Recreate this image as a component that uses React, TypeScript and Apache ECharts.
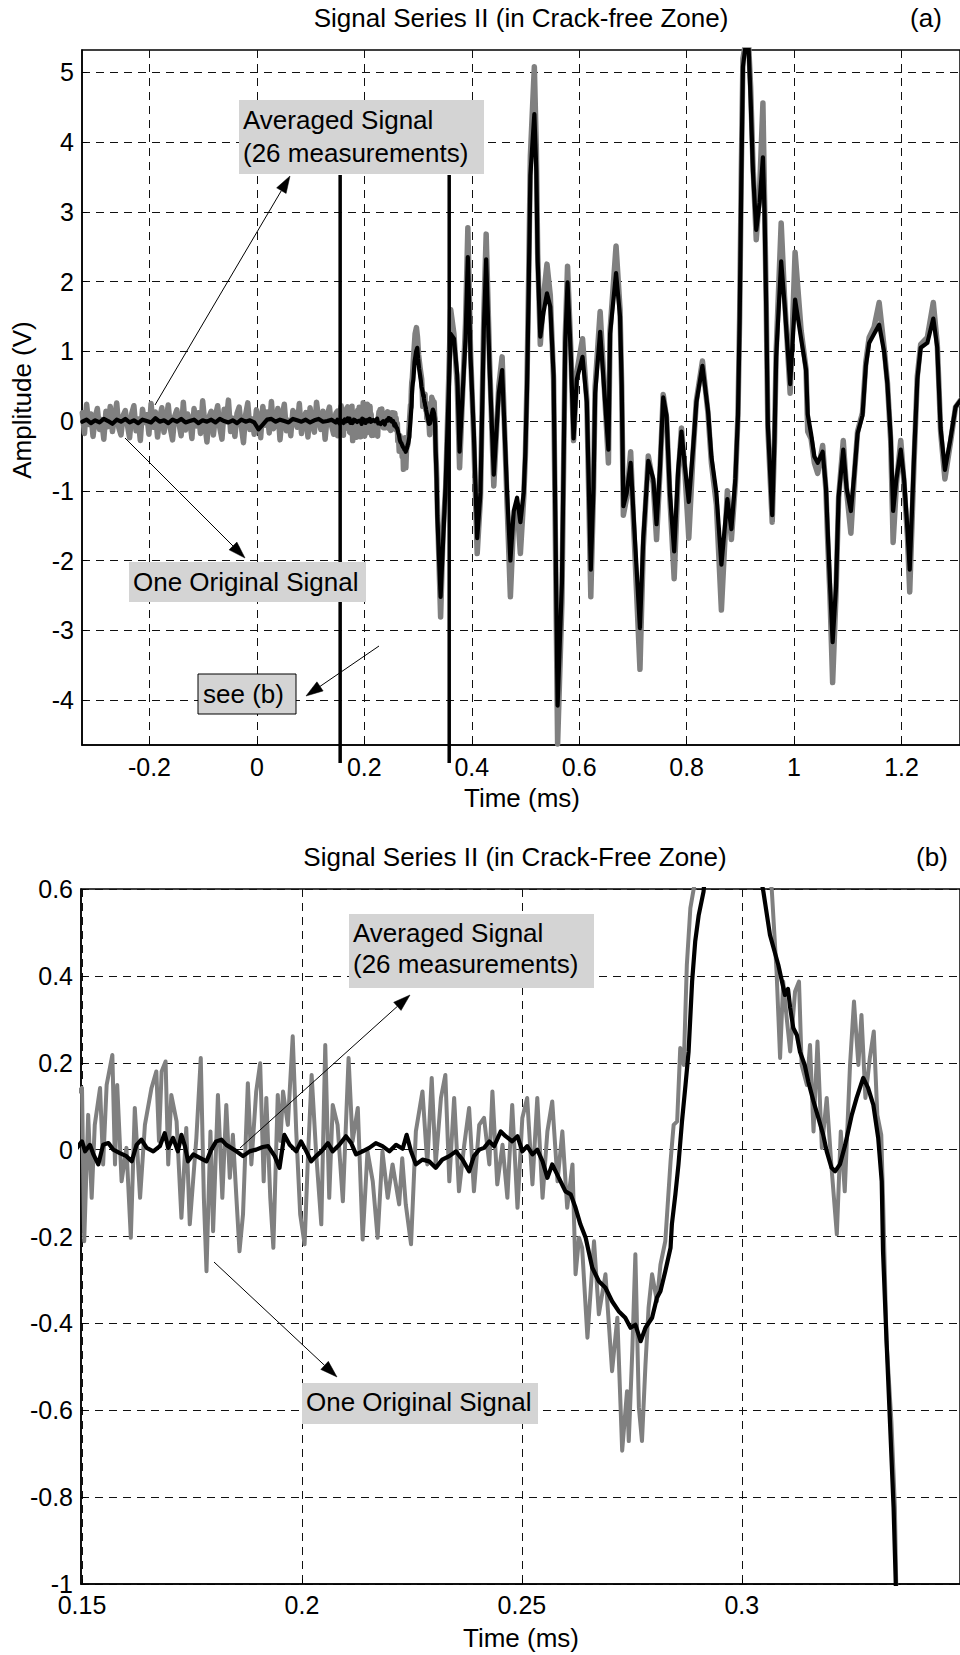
import React, { useEffect, useRef } from 'react';
import * as echarts from 'echarts';

const FONT = '"Liberation Sans", Arial, Helvetica, sans-serif';

// ---------- axes ----------
const topTimeTicks = [-0.2, 0, 0.2, 0.4, 0.6, 0.8, 1, 1.2];
const topAmpTicks = [-4, -3, -2, -1, 0, 1, 2, 3, 4, 5];
const detailTimeTicks = [0.15, 0.2, 0.25, 0.3];
const detailAmpTicks = [-1, -0.8, -0.6, -0.4, -0.2, 0, 0.2, 0.4, 0.6];
const topTimeRange = [-0.3256, 1.3089];
const topAmpRange = [-4.645, 5.32];
const detailTimeRange = [0.14977, 0.3496];
const detailAmpRange = [-1, 0.6];
const zoomWindow = [0.155, 0.358];

// ---------- pre-trigger noise (uniformly sampled) ----------
const noiseStart = -0.325;
const originalNoiseStep = 0.004;
const originalNoise = [
  0.12, -0.18, 0.24, -0.05, 0.10, -0.22, 0.06, 0.18, -0.12, 0.02, -0.26, 0.14, -0.08, 0.21, -0.15, 0.04, 0.26, -0.10, -0.20, 0.08,
  0.15, -0.06, -0.24, 0.11, 0.22, -0.14, 0.03, -0.28, 0.17, -0.02, 0.09, -0.19, 0.25, -0.09, 0.13, -0.23, 0.05, 0.19, -0.16, 0.01,
  0.23, -0.11, -0.27, 0.07, 0.16, -0.04, -0.21, 0.27, -0.13, 0.10, 0.02, -0.25, 0.18, -0.07, 0.12, -0.18, 0.29, -0.03, -0.30, 0.06,
  0.14, -0.20, 0.08, 0.22, -0.10, -0.26, 0.17, -0.01, 0.30, -0.15, 0.04, -0.22, 0.11, 0.20, -0.08, -0.31, 0.09, 0.26, -0.12, 0.03,
  -0.19, 0.16, 0.05, -0.24, 0.21, -0.06, 0.13, -0.17, 0.28, -0.11, -0.02, 0.18, -0.27, 0.07, 0.24, -0.14, 0.01, -0.21, 0.15, 0.10,
  -0.09, 0.25, -0.18, 0.04, 0.12, -0.23, 0.19, -0.05, -0.16, 0.27, 0.02, -0.12, 0.14, -0.26, 0.08, 0.20, -0.07, -0.19, 0.11,
];
const averagedNoiseStep = 0.008;
const averagedNoise = [
  -0.01, 0.02, -0.03, 0.01, -0.02, 0.03, 0.00, -0.04, 0.02, -0.01,
  0.03, -0.02, 0.01, -0.03, 0.02, 0.00, -0.02, 0.04, -0.01, 0.01,
  -0.03, 0.02, -0.01, 0.03, -0.02, 0.00, 0.02, -0.03, 0.01, -0.01,
  0.02, -0.02, 0.03, 0.00, -0.02, 0.01, -0.03, 0.02, -0.01, 0.01,
  -0.02, -0.12, -0.05, 0.02, 0.03, -0.01, 0.02, 0.00, -0.02, 0.03,
  0.01, -0.01, 0.02, -0.02, 0.01, 0.03, -0.01, 0.00, 0.02, -0.02,
];

// ---------- detail window (time ms, amplitude V) ----------
const originalDetail: [number, number][] = [
  [0.1500, 0.142], [0.1505, -0.211], [0.1514, 0.080], [0.1522, -0.111], [0.1529, 0.057], [0.1541, 0.142], [0.1548, -0.034],
  [0.1556, 0.149], [0.1569, 0.218], [0.1575, -0.034], [0.1580, 0.149], [0.1590, -0.073], [0.1601, 0.004], [0.1611, -0.203],
  [0.1620, 0.096], [0.1632, -0.111], [0.1643, 0.057], [0.1658, 0.142], [0.1669, 0.180], [0.1675, 0.020], [0.1681, 0.180],
  [0.1690, 0.203], [0.1696, -0.034], [0.1703, 0.126], [0.1715, 0.065], [0.1726, -0.157], [0.1737, 0.050], [0.1745, -0.172],
  [0.1760, 0.027], [0.1770, 0.211], [0.1777, -0.111], [0.1783, -0.280], [0.1792, 0.042], [0.1798, -0.188], [0.1809, 0.126],
  [0.1819, -0.111], [0.1828, 0.103], [0.1836, -0.065], [0.1843, 0.034], [0.1851, -0.111], [0.1858, -0.234], [0.1866, -0.149],
  [0.1877, 0.153], [0.1885, -0.034], [0.1896, 0.134], [0.1905, 0.199], [0.1913, -0.073], [0.1919, 0.119], [0.1928, -0.111],
  [0.1935, -0.226], [0.1945, 0.126], [0.1951, 0.020], [0.1957, 0.134], [0.1968, 0.057], [0.1979, 0.261], [0.1987, 0.042],
  [0.1996, -0.149], [0.2006, -0.218], [0.2013, -0.034], [0.2022, 0.172], [0.2032, -0.004], [0.2044, -0.172], [0.2053, 0.241],
  [0.2062, -0.111], [0.2070, 0.103], [0.2081, 0.057], [0.2093, -0.119], [0.2106, 0.211], [0.2115, 0.019], [0.2127, 0.096],
  [0.2138, -0.207], [0.2149, -0.004], [0.2161, -0.073], [0.2172, -0.203], [0.2183, -0.004], [0.2195, -0.111], [0.2206, -0.034],
  [0.2221, -0.126], [0.2228, -0.020], [0.2236, -0.126], [0.2248, -0.218], [0.2259, 0.042], [0.2274, 0.134], [0.2285, -0.034],
  [0.2295, 0.165], [0.2304, -0.034], [0.2316, 0.119], [0.2326, 0.172], [0.2335, -0.073], [0.2346, 0.119], [0.2357, -0.096],
  [0.2369, 0.011], [0.2380, 0.096], [0.2391, -0.096], [0.2403, 0.057], [0.2414, 0.073], [0.2426, -0.034], [0.2433, 0.134],
  [0.2444, -0.080], [0.2456, 0.011], [0.2467, -0.111], [0.2478, 0.103], [0.2490, -0.134], [0.2501, 0.073], [0.2512, 0.119],
  [0.2524, -0.080], [0.2535, 0.119], [0.2547, -0.111], [0.2558, 0.042], [0.2569, 0.111], [0.2581, -0.073], [0.2592, 0.042],
  [0.2603, -0.134], [0.2615, -0.034], [0.2622, -0.287], [0.2630, -0.203], [0.2637, -0.226], [0.2649, -0.433], [0.2664, -0.211],
  [0.2675, -0.379], [0.2690, -0.287], [0.2705, -0.510], [0.2717, -0.387], [0.2728, -0.693], [0.2739, -0.556], [0.2743, -0.671],
  [0.2751, -0.464], [0.2758, -0.241], [0.2766, -0.594], [0.2773, -0.671], [0.2781, -0.494], [0.2788, -0.364], [0.2796, -0.287],
  [0.2807, -0.349], [0.2815, -0.265], [0.2826, -0.211], [0.2838, -0.027], [0.2845, 0.057], [0.2853, 0.065], [0.2860, 0.234],
  [0.2868, 0.195], [0.2875, 0.425], [0.2883, 0.556], [0.2894, 0.620], [0.2915, 0.900], [0.2945, 1.250], [0.2970, 1.340],
  [0.2990, 1.200], [0.3010, 0.950], [0.3040, 0.750], [0.3068, 0.600], [0.3079, 0.410], [0.3087, 0.211], [0.3094, 0.387],
  [0.3102, 0.303], [0.3110, 0.226], [0.3121, 0.364], [0.3130, 0.387], [0.3136, 0.195], [0.3148, 0.149], [0.3155, 0.241],
  [0.3163, 0.042], [0.3172, 0.249], [0.3182, 0.004], [0.3193, 0.119], [0.3204, -0.042], [0.3216, -0.195], [0.3225, 0.042],
  [0.3234, -0.096], [0.3246, 0.195], [0.3255, 0.341], [0.3265, 0.195], [0.3272, 0.310], [0.3281, 0.119], [0.3291, 0.211],
  [0.3300, 0.272], [0.3308, 0.080], [0.3317, 0.034], [0.3321, -0.111], [0.3329, -0.441], [0.3340, -0.625], [0.3348, -0.824],
  [0.3351, -1.000],
];

const averagedDetail: [number, number][] = [
  [0.1500, 0.019], [0.1507, -0.004], [0.1518, 0.011], [0.1526, -0.011], [0.1537, -0.034], [0.1548, 0.011], [0.1560, 0.015],
  [0.1571, 0.000], [0.1586, -0.008], [0.1601, -0.015], [0.1613, -0.027], [0.1624, 0.011], [0.1635, 0.023], [0.1647, 0.004],
  [0.1662, -0.004], [0.1677, 0.008], [0.1688, 0.038], [0.1696, 0.004], [0.1707, 0.027], [0.1718, -0.004], [0.1726, 0.034],
  [0.1734, 0.008], [0.1741, -0.027], [0.1753, -0.011], [0.1768, -0.019], [0.1783, -0.027], [0.1794, 0.000], [0.1805, 0.019],
  [0.1817, 0.023], [0.1828, 0.011], [0.1839, 0.004], [0.1851, -0.004], [0.1866, -0.015], [0.1881, -0.004], [0.1896, 0.000],
  [0.1911, 0.006], [0.1923, 0.008], [0.1938, -0.015], [0.1949, -0.042], [0.1960, 0.034], [0.1972, 0.011], [0.1987, -0.004],
  [0.1998, 0.019], [0.2010, -0.004], [0.2021, -0.027], [0.2032, -0.015], [0.2044, -0.004], [0.2059, 0.015], [0.2070, -0.004],
  [0.2085, 0.011], [0.2100, 0.031], [0.2112, 0.015], [0.2123, -0.011], [0.2138, -0.004], [0.2153, 0.004], [0.2168, 0.015],
  [0.2183, 0.008], [0.2199, -0.004], [0.2214, 0.011], [0.2229, 0.002], [0.2238, 0.034], [0.2248, -0.004], [0.2259, -0.034],
  [0.2274, -0.023], [0.2289, -0.027], [0.2304, -0.042], [0.2319, -0.023], [0.2335, -0.015], [0.2350, -0.004], [0.2365, -0.023],
  [0.2380, -0.050], [0.2391, -0.015], [0.2403, 0.000], [0.2414, 0.004], [0.2426, 0.019], [0.2437, 0.008], [0.2452, 0.042],
  [0.2463, 0.031], [0.2478, 0.019], [0.2490, 0.031], [0.2501, -0.004], [0.2512, 0.008], [0.2524, -0.011], [0.2535, 0.000],
  [0.2547, -0.027], [0.2558, -0.065], [0.2569, -0.034], [0.2584, -0.065], [0.2599, -0.096], [0.2611, -0.103], [0.2622, -0.134],
  [0.2633, -0.172], [0.2645, -0.203], [0.2660, -0.272], [0.2675, -0.303], [0.2690, -0.318], [0.2705, -0.349], [0.2720, -0.372],
  [0.2735, -0.387], [0.2747, -0.410], [0.2758, -0.403], [0.2770, -0.441], [0.2781, -0.410], [0.2796, -0.387], [0.2807, -0.341],
  [0.2815, -0.326], [0.2826, -0.280], [0.2838, -0.226], [0.2841, -0.172], [0.2849, -0.103], [0.2856, -0.034], [0.2864, 0.065],
  [0.2872, 0.149], [0.2879, 0.226], [0.2887, 0.387], [0.2894, 0.479], [0.2902, 0.540], [0.2913, 0.594], [0.2935, 0.850],
  [0.2965, 1.000], [0.2985, 1.050], [0.3000, 0.900], [0.3020, 0.750], [0.3049, 0.594], [0.3064, 0.494], [0.3083, 0.425],
  [0.3098, 0.356], [0.3105, 0.370], [0.3110, 0.326], [0.3117, 0.280], [0.3125, 0.264], [0.3132, 0.226], [0.3143, 0.195],
  [0.3151, 0.157], [0.3163, 0.111], [0.3174, 0.073], [0.3185, 0.034], [0.3193, -0.004], [0.3204, -0.042], [0.3212, -0.050],
  [0.3223, -0.034], [0.3235, 0.011], [0.3250, 0.080], [0.3261, 0.119], [0.3276, 0.165], [0.3287, 0.142], [0.3299, 0.103],
  [0.3310, 0.027], [0.3318, -0.073], [0.3321, -0.234], [0.3329, -0.441], [0.3337, -0.632], [0.3345, -0.824], [0.3350, -1.000],
];

// ---------- main event (time ms, amplitude V) ----------
const originalEvent: [number, number][] = [
  [0.3385, -1.9], [0.342, -2.81], [0.3465, -1.6], [0.3514, -0.95], [0.356, 0.3], [0.3607, 1.6], [0.3668, 1.25], [0.373, 0.5],
  [0.3773, -0.67], [0.383, 0.4], [0.3884, 1.4], [0.3927, 2.77], [0.3977, 1.0], [0.4039, -0.3], [0.4101, -1.9], [0.4162, -1.1],
  [0.4224, 1.5], [0.4268, 2.68], [0.433, 0.9], [0.441, -0.93], [0.4503, 0.5], [0.4565, 0.92], [0.4658, -1.2], [0.4719, -2.52],
  [0.4781, -1.4], [0.4843, -1.2], [0.4905, -1.9], [0.4967, -1.1], [0.4998, -0.5], [0.5029, 0.6], [0.506, 2.1], [0.5091, 3.8],
  [0.5165, 5.08], [0.5202, 3.9], [0.5227, 2.4], [0.5276, 1.1], [0.5338, 1.8], [0.54, 2.25], [0.5462, 1.8], [0.5523, 0.6],
  [0.5554, -1.5], [0.5598, -4.63], [0.5678, -2.6], [0.5709, -0.7], [0.574, 1.2], [0.5783, 2.22], [0.5845, 1.0], [0.5895, -0.28],
  [0.5956, 0.7], [0.6062, 1.18], [0.6142, 0.3], [0.6216, -2.52], [0.6266, -1.0], [0.6297, 0.5], [0.639, 1.57], [0.6544, -0.6],
  [0.6575, 1.3], [0.6686, 2.51], [0.676, 1.6], [0.6791, 0.5], [0.6822, -1.35], [0.6884, -1.1], [0.6958, -0.44], [0.7008, -1.4],
  [0.7131, -3.56], [0.7193, -1.8], [0.7286, -0.5], [0.7379, -0.9], [0.744, -1.7], [0.7502, -0.75], [0.7564, 0.38], [0.7626, 0.05],
  [0.7688, -1.1], [0.7768, -2.26], [0.7842, -0.8], [0.7904, -0.1], [0.7966, -0.7], [0.804, -1.68], [0.8121, -0.45], [0.8182, 0.3],
  [0.8294, 0.86], [0.8399, 0.1], [0.8461, -0.6], [0.8554, -1.2], [0.8647, -2.71], [0.8758, -1.0], [0.8833, -1.7], [0.8907, -0.9],
  [0.8956, 0.1], [0.8987, 1.5], [0.9018, 3.6], [0.9048, 5.2], [0.9092, 5.4], [0.9154, 5.4], [0.9191, 4.8], [0.9234, 3.7],
  [0.9296, 2.6], [0.9358, 3.3], [0.942, 4.56], [0.945, 3.2], [0.9481, 1.7], [0.9512, -0.1], [0.9593, -1.45], [0.9636, -0.3],
  [0.9667, 1.0], [0.976, 2.84], [0.9821, 1.8], [0.9927, 0.4], [1.0019, 2.42], [1.0131, 1.3], [1.0223, 0.75], [1.0254, -0.15],
  [1.0316, -0.25], [1.0378, -0.6], [1.044, -0.75], [1.0532, -0.35], [1.0594, -1.0], [1.0625, -1.7], [1.0668, -2.5], [1.0718, -3.75],
  [1.078, -2.5], [1.0829, -1.1], [1.0916, -0.28], [1.0978, -1.0], [1.1058, -1.61], [1.112, -0.8], [1.1182, -0.15], [1.1274, 0.12],
  [1.1336, 0.85], [1.1398, 1.2], [1.1491, 1.35], [1.1584, 1.7], [1.1677, 1.05], [1.1738, 0.55], [1.18, -0.3], [1.1844, -1.74],
  [1.1906, -0.9], [1.1986, -0.28], [1.2048, -0.9], [1.211, -1.65], [1.2153, -2.45], [1.2233, -0.6], [1.2295, 0.65], [1.2357, 1.1],
  [1.2481, 1.2], [1.2592, 1.7], [1.2666, 1.1], [1.2697, 0.5], [1.2728, -0.15], [1.2808, -0.83], [1.2913, -0.3], [1.3006, 0.2],
  [1.31, 0.3],
];

const averagedEvent: [number, number][] = [
  [0.3358, -1.35], [0.342, -2.52], [0.3514, -0.9], [0.3607, 1.25], [0.3668, 1.18], [0.373, 0.66], [0.3773, -0.44], [0.3884, 1.18],
  [0.3927, 2.35], [0.3977, 0.92], [0.4039, -0.18], [0.4101, -1.68], [0.4162, -1.03], [0.4224, 1.31], [0.4268, 2.32], [0.433, 0.79],
  [0.441, -0.77], [0.4503, 0.4], [0.4565, 0.73], [0.4658, -1.03], [0.4719, -2.0], [0.4781, -1.29], [0.4843, -1.1], [0.4905, -1.45],
  [0.4967, -1.03], [0.4998, -0.44], [0.5029, 0.47], [0.506, 1.9], [0.5091, 3.52], [0.5165, 4.4], [0.5202, 3.58], [0.5227, 2.29],
  [0.5276, 1.21], [0.5338, 1.57], [0.54, 1.83], [0.5462, 1.64], [0.5523, 0.66], [0.5554, -1.29], [0.5598, -4.08], [0.5678, -2.32],
  [0.5709, -0.64], [0.574, 1.12], [0.5783, 1.99], [0.5845, 0.92], [0.5895, -0.25], [0.5956, 0.6], [0.6062, 0.92], [0.6142, 0.27],
  [0.6216, -2.13], [0.6266, -0.96], [0.6297, 0.4], [0.639, 1.28], [0.6544, -0.41], [0.6575, 1.25], [0.6686, 2.12], [0.676, 1.5],
  [0.6791, 0.53], [0.6822, -1.22], [0.6884, -1.03], [0.6958, -0.6], [0.7008, -1.29], [0.7131, -2.97], [0.7193, -1.68], [0.7286, -0.57],
  [0.7379, -0.83], [0.744, -1.48], [0.7502, -0.7], [0.7564, 0.34], [0.7626, 0.08], [0.7688, -1.03], [0.7768, -1.87], [0.7842, -0.7],
  [0.7904, -0.15], [0.7966, -0.64], [0.804, -1.16], [0.8121, -0.38], [0.8182, 0.27], [0.8294, 0.79], [0.8399, 0.14], [0.8461, -0.51],
  [0.8554, -1.03], [0.8647, -2.06], [0.8758, -1.12], [0.8833, -1.55], [0.8907, -0.83], [0.8956, 0.08], [0.8987, 1.44], [0.9018, 3.45],
  [0.9048, 5.08], [0.9092, 5.35], [0.9154, 5.35], [0.9191, 4.62], [0.9234, 3.58], [0.9296, 2.74], [0.9358, 3.13], [0.942, 3.78],
  [0.945, 3.0], [0.9481, 1.64], [0.9512, -0.05], [0.9593, -1.35], [0.9636, -0.25], [0.9667, 0.92], [0.976, 2.29], [0.9821, 1.7],
  [0.9927, 0.53], [1.0019, 1.74], [1.0131, 1.18], [1.0223, 0.73], [1.0254, 0.1], [1.0316, -0.18], [1.0378, -0.51], [1.044, -0.6],
  [1.0532, -0.44], [1.0594, -0.96], [1.0625, -1.55], [1.0668, -2.32], [1.0718, -3.17], [1.078, -2.39], [1.0829, -1.09], [1.0916, -0.41],
  [1.0978, -0.96], [1.1058, -1.29], [1.112, -0.77], [1.1182, -0.18], [1.1274, 0.08], [1.1336, 0.79], [1.1398, 1.12], [1.1491, 1.25],
  [1.1584, 1.38], [1.1677, 0.99], [1.1738, 0.53], [1.18, -0.25], [1.1844, -1.29], [1.1906, -0.83], [1.1986, -0.41], [1.2048, -0.83],
  [1.211, -1.55], [1.2153, -2.13], [1.2233, -0.51], [1.2295, 0.6], [1.2357, 1.05], [1.2481, 1.12], [1.2592, 1.47], [1.2666, 1.05],
  [1.2697, 0.47], [1.2728, -0.1], [1.2808, -0.7], [1.2913, -0.25], [1.3006, 0.2], [1.31, 0.3],
];

const sampled = (start: number, step: number, vals: number[]) =>
  vals.map((v, i) => [+(start + i * step).toFixed(4), v] as [number, number]);

const originalSignal = [...sampled(noiseStart, originalNoiseStep, originalNoise), ...originalDetail, ...originalEvent];
const averagedSignal = [...sampled(noiseStart, averagedNoiseStep, averagedNoise), ...averagedDetail, ...averagedEvent];

const fmt = (v: number) => `${+v.toFixed(3)}`;

function valueAxis(gridIndex: number, range: number[], ticks: number[], position: string, margin: number) {
  return {
    type: 'value',
    gridIndex,
    position,
    min: range[0],
    max: range[1],
    axisLine: { show: true, onZero: false, lineStyle: { color: '#000', width: 1.5 } },
    axisTick: { show: true, inside: true, length: 5, customValues: ticks, lineStyle: { color: '#000', width: 1 } },
    axisLabel: {
      customValues: ticks,
      margin,
      fontSize: 25,
      lineHeight: 20,
      fontFamily: FONT,
      color: '#000',
      formatter: fmt,
      showMinLabel: true,
      showMaxLabel: true,
      hideOverlap: false,
    },
    splitLine: { show: true, lineStyle: { color: '#111', width: 1, type: [8, 6] } },
  };
}

function text(str: string, x: number, y: number, align: string, size = 26, rotation = 0) {
  return {
    type: 'text',
    x,
    y,
    rotation,
    z: 101,
    style: {
      text: str,
      fontSize: size,
      fontFamily: FONT,
      fill: '#000',
      align,
      textAlign: align,
      verticalAlign: 'middle',
      textVerticalAlign: 'middle',
    },
  };
}

function box(x: number, y: number, w: number, h: number, border = false) {
  return {
    type: 'rect',
    z: 100,
    shape: { x, y, width: w, height: h },
    style: { fill: '#d4d4d4', stroke: border ? '#000' : 'none', lineWidth: border ? 1 : 0 },
  };
}

function arrow(x1: number, y1: number, x2: number, y2: number) {
  const len = Math.hypot(x2 - x1, y2 - y1);
  const ux = (x2 - x1) / len;
  const uy = (y2 - y1) / len;
  const hl = 17;
  const hw = 5.5;
  const bx = x2 - ux * hl;
  const by = y2 - uy * hl;
  return [
    { type: 'line', z: 100, shape: { x1, y1, x2: bx, y2: by }, style: { stroke: '#000', lineWidth: 1 } },
    {
      type: 'polygon',
      z: 100,
      shape: { points: [[x2, y2], [bx - uy * hw, by + ux * hw], [bx + uy * hw, by - ux * hw]] },
      style: { fill: '#000', stroke: '#000', lineWidth: 0.5 },
    },
  ];
}

export default function App() {
  const ref = useRef<HTMLDivElement>(null);

  useEffect(() => {
    if (!ref.current) return;
    const chart = echarts.init(ref.current, undefined, { renderer: 'svg' });
    const lineSeries = (data: [number, number][], idx: number, color: string, width: number, z: number) => ({
      type: 'line',
      xAxisIndex: idx,
      yAxisIndex: idx,
      data,
      showSymbol: false,
      symbol: 'none',
      clip: true,
      z,
      lineStyle: { color, width, join: 'round', cap: 'round' },
      emphasis: { disabled: true },
    });
    chart.setOption({
      animation: false,
      textStyle: { fontFamily: FONT },
      grid: [
        { left: 82, top: 50, width: 881, height: 695, show: true, borderColor: '#000', borderWidth: 1.5, backgroundColor: 'transparent' },
        { left: 81, top: 889, width: 882, height: 695, show: true, borderColor: '#000', borderWidth: 1.5, backgroundColor: 'transparent' },
      ],
      xAxis: [
        valueAxis(0, topTimeRange, topTimeTicks, 'bottom', 11.5),
        valueAxis(1, detailTimeRange, detailTimeTicks, 'bottom', 11),
      ],
      yAxis: [
        valueAxis(0, topAmpRange, topAmpTicks, 'left', 8),
        valueAxis(1, detailAmpRange, detailAmpTicks, 'left', 8),
      ],
      series: [
        lineSeries(originalSignal, 0, '#808080', 5.5, 2),
        lineSeries(averagedSignal, 0, '#000000', 4.2, 3),
        lineSeries(originalSignal, 1, '#808080', 4, 2),
        lineSeries(averagedSignal, 1, '#000000', 4.2, 3),
      ],
    });

    const xa = chart.convertToPixel({ xAxisIndex: 0 }, zoomWindow[0]) as number;
    const xb = chart.convertToPixel({ xAxisIndex: 0 }, zoomWindow[1]) as number;

    const elements: any[] = [
      text('Signal Series II (in Crack-free Zone)', 521, 18, 'center'),
      text('(a)', 926, 18, 'center'),
      text('Amplitude (V)', 22, 400, 'center', 26, Math.PI / 2),
      text('Time (ms)', 522, 798, 'center'),
      text('Signal Series II (in Crack-Free Zone)', 515, 857, 'center'),
      text('(b)', 932, 857, 'center'),
      text('Time (ms)', 521, 1638, 'center'),
      // zoom window markers
      { type: 'line', z: 100, shape: { x1: xa, y1: 175, x2: xa, y2: 763 }, style: { stroke: '#000', lineWidth: 3.5 } },
      { type: 'line', z: 100, shape: { x1: xb, y1: 175, x2: xb, y2: 763 }, style: { stroke: '#000', lineWidth: 3.5 } },
      // top annotations
      box(239, 100, 245, 74),
      text('Averaged Signal', 243, 120, 'left'),
      text('(26 measurements)', 243, 153, 'left'),
      ...arrow(155, 405, 290, 176),
      box(129, 562, 237, 40),
      text('One Original Signal', 133, 582, 'left'),
      ...arrow(125, 438, 245, 558),
      box(198, 674, 98, 40, true),
      text('see (b)', 203, 694, 'left'),
      ...arrow(379, 646, 306, 696),
      // bottom annotations
      box(349, 914, 245, 74),
      text('Averaged Signal', 353, 933, 'left'),
      text('(26 measurements)', 353, 964, 'left'),
      ...arrow(240, 1148, 410, 995),
      box(302, 1383, 236, 41),
      text('One Original Signal', 306, 1402, 'left'),
      ...arrow(214, 1262, 337, 1377),
    ];
    chart.setOption({ graphic: { elements } });

    return () => chart.dispose();
  }, []);

  return (
    <div
      ref={ref}
      style={{ position: 'absolute', left: 0, top: 0, width: 960, height: 1655, background: '#fff' }}
    />
  );
}
